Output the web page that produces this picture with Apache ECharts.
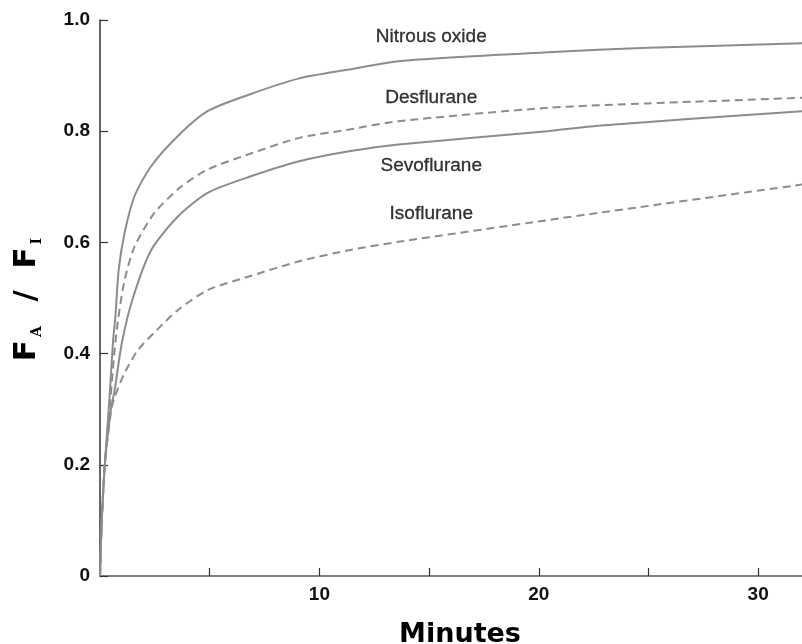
<!DOCTYPE html>
<html>
<head>
    <meta charset="utf-8">
    <title>FA/FI</title>
    <script src="https://cdn.jsdelivr.net/npm/echarts@6/dist/echarts.min.js"></script>
    <style>
        html, body { margin: 0; padding: 0; background: #fff; }
    </style>
</head>
<body>
    <div id="main" style="width: 802px;height:644px;"></div>
    <script type="text/javascript">
        // minutes, FA/FI
        var nitrous = [[0, 0], [0.08, 0.1], [0.22, 0.2], [0.45, 0.33], [0.59, 0.42], [0.7, 0.466], [0.85, 0.55],
            [1.12, 0.617], [1.57, 0.683], [2.33, 0.737], [3.54, 0.791], [4.9, 0.836], [6.81, 0.866], [9.08, 0.895],
            [11.35, 0.911], [13.6, 0.926], [20.4, 0.942], [25, 0.95], [32, 0.958]];
        var desflurane = [[0, 0], [0.08, 0.1], [0.22, 0.2], [0.48, 0.32], [0.65, 0.4], [0.82, 0.46], [1.12, 0.532],
            [1.57, 0.592], [2.48, 0.653], [3.69, 0.7], [4.9, 0.731], [6.81, 0.759], [9.08, 0.788], [11.35, 0.803],
            [13.6, 0.818], [20.4, 0.842], [25, 0.85], [32, 0.86]];
        var sevoflurane = [[0, 0], [0.08, 0.1], [0.22, 0.2], [0.5, 0.3], [0.67, 0.335], [1.0, 0.42], [1.5, 0.5],
            [2.33, 0.586], [3.54, 0.646], [4.9, 0.689], [6.81, 0.718], [9.08, 0.746], [11.35, 0.764], [13.6, 0.776],
            [20.4, 0.8], [22.7, 0.81], [32, 0.836]];
        var isoflurane = [[0, 0], [0.08, 0.1], [0.22, 0.2], [0.51, 0.298], [0.67, 0.322], [1.12, 0.365], [1.72, 0.406],
            [2.63, 0.444], [3.54, 0.478], [4.9, 0.514], [6.81, 0.539], [9.08, 0.566], [11.35, 0.586], [13.6, 0.601],
            [20.4, 0.64], [22.7, 0.653], [32, 0.704]];

        var xTicks = [5, 10, 15, 20, 25, 30];
        var xLabels = [10, 20, 30];

        // where the curve names sit (minutes, FA/FI)
        var names = ['Nitrous oxide', 'Desflurane', 'Sevoflurane', 'Isoflurane'];
        var namePos = [[15.1, 0.97], [15.1, 0.86], [15.1, 0.738], [15.1, 0.652]];

        var myChart = echarts.init(document.getElementById('main'));

        var lineColor = '#8c8c8c';
        function curve(name, data, dashed) {
            return {
                name: name,
                type: 'line',
                data: data,
                smooth: 0.25,
                showSymbol: false,
                lineStyle: { color: lineColor, width: 2, type: dashed ? [8, 5] : 'solid' }
            };
        }

        var textSeries = {
            type: 'scatter',
            symbolSize: 0,
            data: namePos.map(function (p, i) { return { value: p, name: names[i] }; }),
            label: {
                show: true,
                position: 'inside',
                formatter: '{b}',
                color: '#000',
                fontFamily: 'Liberation Sans',
                fontSize: 19,
                textBorderColor: '#000',
                textBorderWidth: 0.3
            },
            silent: true
        };

        var option = {
            animation: false,
            backgroundColor: '#fff',
            grid: { left: 100, right: 0, top: 20, bottom: 68, outerBoundsMode: 'none' },
            xAxis: {
                type: 'value',
                min: 0,
                max: 32,
                interval: 5,
                name: 'Minutes',
                nameLocation: 'middle',
                nameGap: 45,
                nameTextStyle: {
                    fontFamily: 'DejaVu Sans',
                    fontWeight: 'bold',
                    fontSize: 27,
                    color: '#000',
                    padding: [0, 0, 0, 18]
                },
                axisLine: { lineStyle: { color: '#555', width: 1.5 } },
                axisTick: { inside: true, length: 8, customValues: xTicks, lineStyle: { color: '#333', width: 1.2 } },
                axisLabel: {
                    customValues: xLabels,
                    margin: 9,
                    color: '#111',
                    fontFamily: 'Liberation Sans',
                    fontWeight: 'bold',
                    fontSize: 19
                },
                splitLine: { show: false }
            },
            yAxis: {
                type: 'value',
                min: 0,
                max: 1,
                interval: 0.2,
                name: '{f|F}{s|A}{f|  /  F}{s|I}',
                nameLocation: 'middle',
                nameGap: 56,
                nameTextStyle: {
                    rich: {
                        f: { fontFamily: 'DejaVu Sans', fontWeight: 'bold', fontSize: 31, color: '#000', lineHeight: 34 },
                        s: { fontFamily: 'DejaVu Serif', fontWeight: 'bold', fontSize: 14, color: '#000', lineHeight: 34, verticalAlign: 'bottom', padding: [12, 3, 0, 3] }
                    }
                },
                axisLine: { show: true, lineStyle: { color: '#333', width: 1.5 } },
                axisTick: { show: true, inside: true, length: 8, lineStyle: { color: '#333', width: 1.2 } },
                axisLabel: {
                    margin: 10,
                    color: '#111',
                    fontFamily: 'Liberation Sans',
                    fontWeight: 'bold',
                    fontSize: 19,
                    formatter: function (v) { return v === 0 ? '0' : v.toFixed(1); }
                },
                splitLine: { show: false }
            },
            series: [
                curve('Nitrous oxide', nitrous, false),
                curve('Desflurane', desflurane, true),
                curve('Sevoflurane', sevoflurane, false),
                curve('Isoflurane', isoflurane, true),
                textSeries
            ]
        };

        myChart.setOption(option);
    </script>
</body>
</html>
